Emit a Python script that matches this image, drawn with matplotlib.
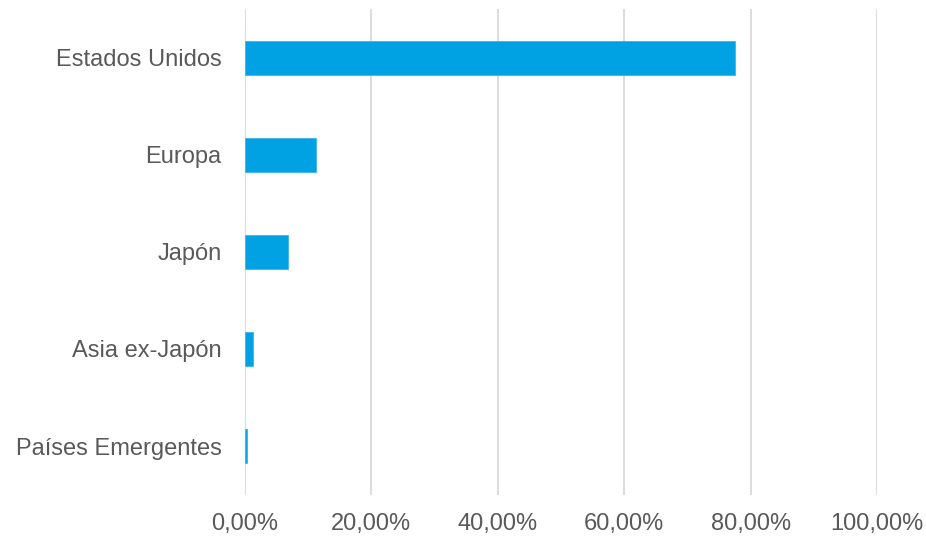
import matplotlib.pyplot as plt
from matplotlib.ticker import FuncFormatter

# datos
regiones = ["Estados Unidos", "Europa", "Japón", "Asia ex-Japón", "Países Emergentes"]
pesos = [77.6, 11.3, 6.85, 1.2, 0.36]

plt.rcParams['font.family'] = ['Liberation Sans', 'DejaVu Sans']

fig = plt.figure(figsize=(9.26, 5.37), dpi=100)
ax = fig.add_axes([0.2646, 0.079, 0.6825, 0.904])

pos = list(range(len(regiones)))
ax.barh(pos, pesos, height=0.35, color="#00A2E3", edgecolor="#3db5ea", linewidth=0.6, zorder=3)

ax.set_xlim(0, 100)
ax.set_ylim(len(regiones) - 0.5, -0.5)
ax.set_yticks(pos)
ax.set_yticklabels(regiones)
ax.set_xticks([0, 20, 40, 60, 80, 100])
ax.xaxis.set_major_formatter(FuncFormatter(lambda v, p: ("%.2f%%" % v).replace(".", ",")))

ax.grid(axis="x", color="#d9d9d9", linewidth=1.3, zorder=0)
for s in ax.spines.values():
    s.set_visible(False)
ax.tick_params(length=0, labelsize=17, labelcolor="#595959")
ax.tick_params(axis="x", pad=13)
ax.tick_params(axis="y", pad=17)

fig.savefig("out.png", dpi=100)
